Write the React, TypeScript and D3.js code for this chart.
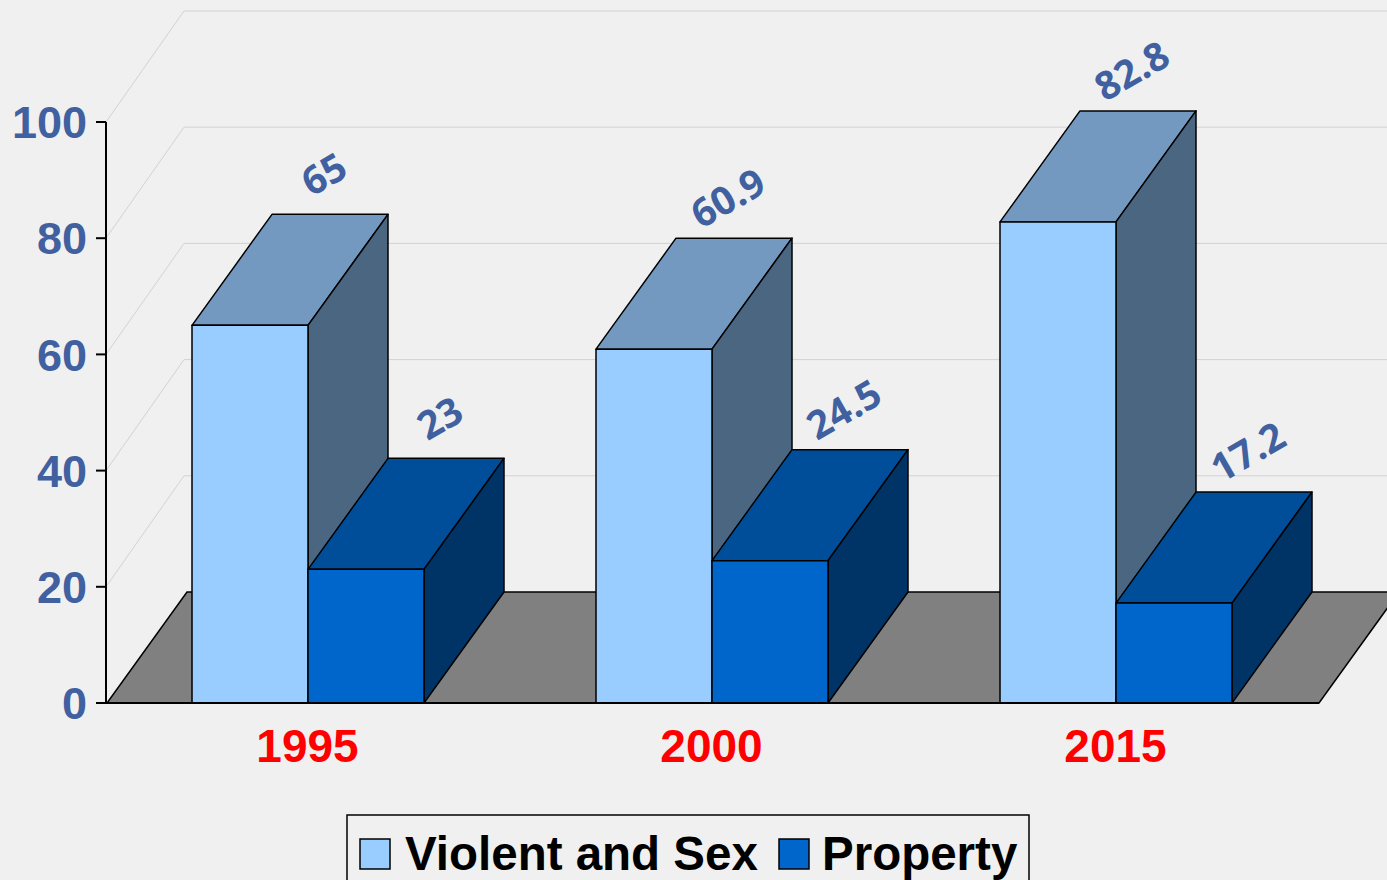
import React from "react";
import * as d3 from "d3";

const years = ["1995", "2000", "2015"];
const seriesNames = ["Violent and Sex", "Property"];
const violent = [65, 60.9, 82.8];
const property = [23, 24.5, 17.2];
const yTicks = [0, 20, 40, 60, 80, 100];

const W = 1387;
const H = 880;
const DX = 80;
const DY = -111;

const faceColors = [
  { front: "#99CCFF", top: "#7399C0", side: "#4B6680" },
  { front: "#0066CC", top: "#004D99", side: "#003366" },
];

export default function App() {
  const x0 = d3.scaleBand<string>().domain(years).range([107, 1319]).padding(0);
  const x1 = d3.scaleBand<string>().domain(seriesNames).range([85, 317]).padding(0);
  const y = d3.scaleLinear().domain([0, 100]).range([703, 122]);
  const axisX = 106;
  const labelColor = "#4060A0";

  const y0 = y(0);
  const floor = [
    [107, y0],
    [1319, y0],
    [1319 + DX, y0 + DY],
    [107 + DX, y0 + DY],
  ];
  const pts = (p: number[][]) => p.map((q) => q.join(",")).join(" ");

  const bars: JSX.Element[] = [];
  const labels: JSX.Element[] = [];
  years.forEach((yr, i) => {
    [violent[i], property[i]].forEach((v, s) => {
      const xl = (x0(yr) as number) + (x1(seriesNames[s]) as number);
      const w = x1.bandwidth();
      const xr = xl + w;
      const yt = y(v);
      const c = faceColors[s];
      bars.push(
        <g key={`${yr}-${s}`} stroke="#000" strokeWidth={1.5} strokeLinejoin="round">
          <polygon points={pts([[xl, yt], [xr, yt], [xr + DX, yt + DY], [xl + DX, yt + DY]])} fill={c.top} />
          <polygon points={pts([[xr, yt], [xr + DX, yt + DY], [xr + DX, y0 + DY], [xr, y0]])} fill={c.side} />
          <rect x={xl} y={yt} width={w} height={y0 - yt} fill={c.front} />
        </g>
      );
      const cx = xl + w / 2 + DX - 6;
      const cy = yt + DY - 40;
      labels.push(
        <text
          key={`l-${yr}-${s}`}
          x={cx}
          y={cy}
          transform={`rotate(-30 ${cx} ${cy})`}
          textAnchor="middle"
          dy="0.35em"
          fontFamily="'Open Sans', Lato, sans-serif"
          fontWeight={700}
          fontSize={39}
          fill={labelColor}
        >
          {String(v)}
        </text>
      );
    });
  });

  return (
    <div style={{ position: "absolute", left: 0, top: 0, width: W, height: H, overflow: "hidden" }}>
      <svg width={W} height={H} style={{ display: "block" }}>
        <rect x={0} y={0} width={W} height={H} fill="#F0F0F0" />
        {yTicks.filter((t) => t > 0).map((t) => (
          <polyline
            key={`g-${t}`}
            points={pts([[axisX, y(t)], [axisX + DX - 2, y(t) + DY], [W + 10, y(t) + DY]])}
            fill="none"
            stroke="#D2D2D2"
            strokeWidth={1}
          />
        ))}
        <polygon points={pts(floor)} fill="#808080" stroke="#000" strokeWidth={1.5} />
        {bars}
        <line x1={axisX} y1={y(100)} x2={axisX} y2={y0} stroke="#000" strokeWidth={2} />
        <line x1={96} y1={y0} x2={1319} y2={y0} stroke="#000" strokeWidth={2} />
        {yTicks.map((t) => (
          <g key={`t-${t}`}>
            <line x1={96} y1={y(t)} x2={axisX} y2={y(t)} stroke="#000" strokeWidth={2} />
            <text
              x={87}
              y={y(t)}
              dy="0.36em"
              textAnchor="end"
              fontFamily="Arial, 'Liberation Sans', sans-serif"
              fontWeight={700}
              fontSize={45}
              fill={labelColor}
            >
              {t}
            </text>
          </g>
        ))}
        {years.map((yr) => (
          <text
            key={`x-${yr}`}
            x={(x0(yr) as number) + x0.bandwidth() / 2 - 1.5}
            y={762}
            textAnchor="middle"
            fontFamily="Arial, 'Liberation Sans', sans-serif"
            fontWeight={700}
            fontSize={46}
            fill="#FF0000"
          >
            {yr}
          </text>
        ))}
        {labels}
        <rect x={347} y={815} width={682} height={90} fill="#F0F0F0" stroke="#000" strokeWidth={1.5} />
        <rect x={360} y={839} width={30} height={30} fill={faceColors[0].front} stroke="#000" strokeWidth={1.5} />
        <text x={405} y={870} fontFamily="Arial, 'Liberation Sans', sans-serif" fontWeight={700} fontSize={47.5} fill="#000">
          {seriesNames[0]}
        </text>
        <rect x={779} y={839} width={30} height={30} fill={faceColors[1].front} stroke="#000" strokeWidth={1.5} />
        <text x={822} y={870} fontFamily="Arial, 'Liberation Sans', sans-serif" fontWeight={700} fontSize={47.5} fill="#000">
          {seriesNames[1]}
        </text>
      </svg>
    </div>
  );
}
